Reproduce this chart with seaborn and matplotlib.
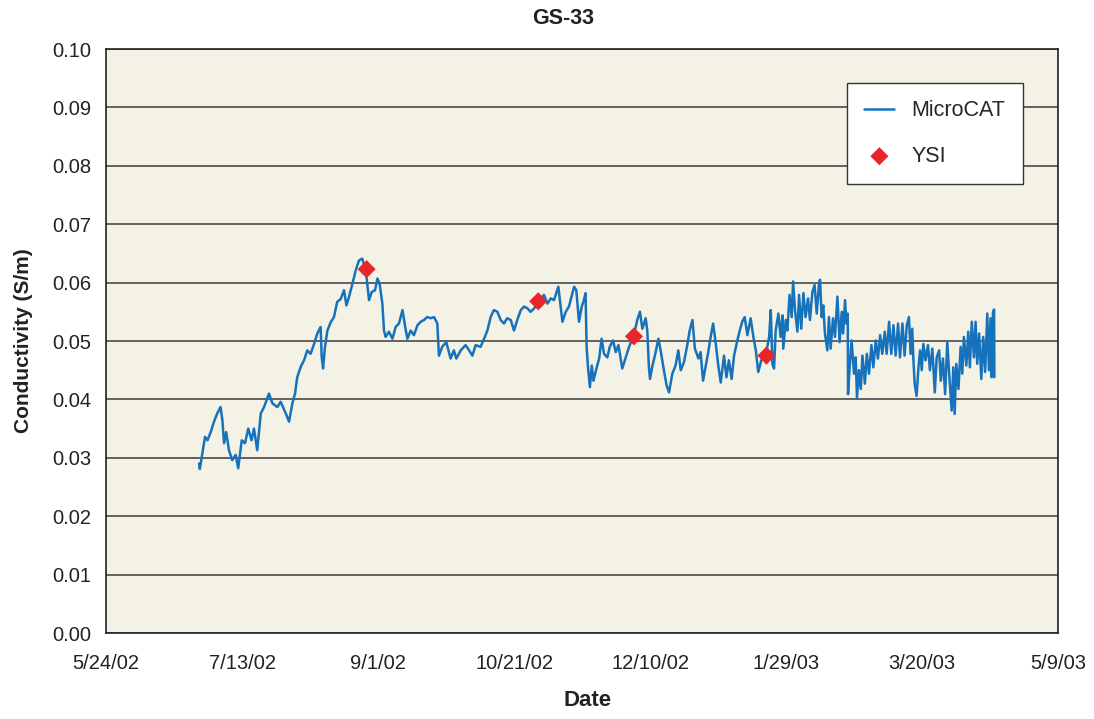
import numpy as np
import pandas as pd
import seaborn as sns
import matplotlib.pyplot as plt

# MicroCAT record: days after 5/24/02 and conductivity (S/m)
micro_days = [
    34.2, 34.5, 35.4, 36.4, 37.3, 38.5, 39.7, 40.9, 42.1, 42.8, 43.4, 44.2, 45.2, 46.4, 47.7,
    48.6, 49.9, 51.1, 52.3, 53.5, 54.4, 55.6, 56.9, 58.1, 59.9, 61.2, 63.0, 64.2, 66.1, 67.3,
    68.5, 69.5, 70.3, 71.6, 72.8, 74.0, 75.2, 76.5, 77.7, 78.9, 79.3, 79.8, 80.5, 81.4, 82.6,
    83.8, 85.0, 86.3, 87.5, 88.4, 89.3, 90.6, 91.8, 93.0, 94.2, 95.5, 96.7, 97.7, 98.9, 99.8,
    100.6, 101.6, 102.2, 102.8, 104.0, 105.3, 106.5, 107.7, 109.0, 109.9, 110.8, 112.0, 113.2,
    114.5, 115.7, 116.9, 118.1, 119.4, 120.6, 121.8, 122.4, 123.6, 125.1, 126.7, 127.9, 128.8,
    130.4, 132.2, 133.5, 134.7, 135.9, 137.7, 139.0, 140.2, 141.4, 142.6, 143.9, 145.1, 146.3,
    147.5, 148.8, 150.0, 151.2, 152.5, 153.7, 154.9, 156.1, 157.4, 159.2, 161.0, 162.3, 163.5,
    164.7, 166.3, 167.8, 169.0, 170.2, 172.1, 172.9, 173.9, 174.9, 175.7, 176.3, 176.7, 177.2,
    177.9, 178.6, 179.2, 180.3, 181.3, 182.2, 183.1, 184.3, 185.2, 186.4, 187.4, 188.4, 189.8,
    191.1, 192.3, 194.1, 195.3, 196.3, 197.2, 198.4, 199.0, 199.6, 200.0, 200.9, 201.8, 203.1,
    203.9, 205.1, 206.1, 207.0, 208.2, 209.4, 210.4, 211.3, 212.5, 213.7, 214.6, 215.6, 216.5,
    217.8, 218.6, 219.5, 220.5, 221.4, 222.3, 223.2, 224.1, 225.1, 226.0, 227.2, 228.1, 229.0,
    230.0, 230.9, 232.1, 233.0, 233.9, 234.8, 235.8, 237.0, 238.0, 238.9, 239.8, 241.1, 242.5,
    243.8, 244.4, 245.0, 245.6, 246.2, 247.2, 248.0, 248.7, 249.0, 249.9, 250.5, 251.3, 252.1,
    252.6, 253.3, 254.2, 254.8, 255.6, 256.4, 257.2, 258.1, 258.8, 259.7, 260.5, 261.3, 262.1,
    262.5, 263.1, 263.7, 264.3, 265.2, 265.8, 266.4, 267.3, 268.0, 268.9, 269.7, 270.5, 271.0,
    271.7, 272.2, 272.7, 272.8, 273.4, 274.1, 275.0, 275.6, 276.1, 276.8, 277.5, 278.1, 279.0,
    279.7, 280.5, 281.4, 282.1, 283.0, 283.8, 284.6, 285.4, 286.3, 287.0, 287.9, 288.7, 289.5,
    290.3, 291.2, 291.9, 292.8, 293.6, 294.4, 295.2, 295.8, 296.4, 296.8, 297.3, 298.0, 298.7,
    299.3, 299.9, 300.5, 301.3, 302.2, 302.9, 303.8, 304.7, 305.4, 306.3, 306.9, 307.7, 308.5,
    309.3, 309.9, 310.9, 311.5, 312.0, 312.6, 313.4, 314.2, 314.8, 315.4, 316.3, 317.0, 317.6,
    318.3, 319.1, 319.7, 320.3, 321.0, 321.8, 322.5, 323.2, 324.0, 324.6, 325.2, 325.6, 326.1,
    326.5, 326.6,
]
micro_cond = [
    0.0290, 0.0281, 0.0307, 0.0336, 0.0330, 0.0344, 0.0362, 0.0376, 0.0387, 0.0364, 0.0325, 0.0344, 0.0313, 0.0296, 0.0305,
    0.0282, 0.0330, 0.0325, 0.0350, 0.0330, 0.0350, 0.0313, 0.0376, 0.0387, 0.0410, 0.0393, 0.0387, 0.0396, 0.0376, 0.0362,
    0.0393, 0.0410, 0.0438, 0.0456, 0.0467, 0.0484, 0.0478, 0.0495, 0.0513, 0.0524, 0.0473, 0.0453, 0.0490, 0.0518, 0.0532,
    0.0541, 0.0567, 0.0572, 0.0587, 0.0561, 0.0575, 0.0598, 0.0621, 0.0638, 0.0641, 0.0621, 0.0570, 0.0584, 0.0587, 0.0607,
    0.0598, 0.0564, 0.0518, 0.0507, 0.0516, 0.0504, 0.0524, 0.0530, 0.0553, 0.0527, 0.0504, 0.0518, 0.0510,
    0.0527, 0.0533, 0.0536, 0.0541, 0.0539, 0.0541, 0.0530, 0.0475, 0.0490, 0.0498, 0.0470, 0.0484, 0.0470,
    0.0484, 0.0493, 0.0484, 0.0475, 0.0493, 0.0490, 0.0504, 0.0518, 0.0541, 0.0553, 0.0550, 0.0536, 0.0530,
    0.0539, 0.0536, 0.0518, 0.0536, 0.0553, 0.0559, 0.0556, 0.0550, 0.0556, 0.0567, 0.0579, 0.0564, 0.0573,
    0.0570, 0.0593, 0.0533, 0.0550, 0.0559, 0.0593, 0.0587, 0.0533, 0.0559, 0.0570, 0.0582, 0.0490, 0.0455,
    0.0421, 0.0458, 0.0432, 0.0453, 0.0470, 0.0504, 0.0478, 0.0472, 0.0490, 0.0501, 0.0481, 0.0493, 0.0453,
    0.0472, 0.0490, 0.0510, 0.0536, 0.0550, 0.0521, 0.0539, 0.0518, 0.0455, 0.0435, 0.0458, 0.0475, 0.0504,
    0.0484, 0.0450, 0.0424, 0.0412, 0.0444, 0.0458, 0.0484, 0.0450, 0.0464, 0.0493, 0.0518, 0.0536, 0.0487,
    0.0470, 0.0481, 0.0432, 0.0458, 0.0481, 0.0507, 0.0530, 0.0498, 0.0458, 0.0429, 0.0475, 0.0438, 0.0467,
    0.0435, 0.0475, 0.0501, 0.0518, 0.0533, 0.0541, 0.0510, 0.0539, 0.0507, 0.0484, 0.0447, 0.0470, 0.0475,
    0.0507, 0.0553, 0.0461, 0.0453, 0.0518, 0.0547, 0.0507, 0.0544, 0.0487, 0.0536, 0.0518, 0.0579, 0.0541,
    0.0602, 0.0553, 0.0516, 0.0579, 0.0521, 0.0582, 0.0541, 0.0573, 0.0536, 0.0584, 0.0596, 0.0547, 0.0596,
    0.0605, 0.0541, 0.0561, 0.0513, 0.0484, 0.0541, 0.0487, 0.0539, 0.0507, 0.0576, 0.0498, 0.0550, 0.0513,
    0.0570, 0.0530, 0.0547, 0.0409, 0.0455, 0.0501, 0.0444, 0.0472, 0.0403, 0.0450, 0.0418, 0.0475, 0.0427,
    0.0478, 0.0444, 0.0493, 0.0455, 0.0501, 0.0470, 0.0510, 0.0478, 0.0516, 0.0478, 0.0533, 0.0478, 0.0527,
    0.0475, 0.0530, 0.0472, 0.0530, 0.0475, 0.0527, 0.0541, 0.0478, 0.0521, 0.0472, 0.0427, 0.0406, 0.0455,
    0.0484, 0.0450, 0.0495, 0.0467, 0.0493, 0.0450, 0.0487, 0.0412, 0.0472, 0.0484, 0.0432, 0.0470, 0.0409,
    0.0498, 0.0450, 0.0381, 0.0455, 0.0375, 0.0461, 0.0418, 0.0490, 0.0444, 0.0507, 0.0458, 0.0516, 0.0455,
    0.0533, 0.0472, 0.0533, 0.0461, 0.0513, 0.0435, 0.0507, 0.0447, 0.0547, 0.0450, 0.0539, 0.0438, 0.0550,
    0.0554, 0.0438,
]

# YSI spot measurements
ysi_days = [95.8, 158.9, 194.1, 242.8]
ysi_cond = [0.0623, 0.0568, 0.0508, 0.0475]

tick_labels = ['5/24/02', '7/13/02', '9/1/02', '10/21/02', '12/10/02', '1/29/03', '3/20/03', '5/9/03']

start = pd.Timestamp('2002-05-24')
micro = pd.DataFrame({'Date': start + pd.to_timedelta(micro_days, unit='D'),
                      'Conductivity': micro_cond})
ysi = pd.DataFrame({'Date': start + pd.to_timedelta(ysi_days, unit='D'),
                    'Conductivity': ysi_cond})

sns.set_style('white')
plt.rcParams['font.family'] = ['Liberation Sans', 'DejaVu Sans']

fig = plt.figure(figsize=(10.94, 7.19), dpi=100)
ax = fig.add_axes([0.0969, 0.1196, 0.8702, 0.8122])

sns.lineplot(data=micro, x='Date', y='Conductivity', estimator=None, color='#1672bb',
             lw=1.8, label='MicroCAT', ax=ax, zorder=3)
sns.scatterplot(data=ysi, x='Date', y='Conductivity', marker='D', s=85, color='#e8252a',
                edgecolor='none', label='YSI', ax=ax, zorder=5)

ax.set_facecolor('#f4f1e5')
ax.set_ylim(0, 0.10)
yt = np.arange(0, 0.1001, 0.01)
ax.set_yticks(yt)
ax.set_yticklabels([f'{v:.2f}' for v in yt])
xt = [start + pd.Timedelta(days=50 * i) for i in range(len(tick_labels))]
ax.set_xlim(xt[0], xt[-1])
ax.set_xticks(xt)
ax.set_xticklabels(tick_labels)

ax.yaxis.grid(True, color='#4a4a4a', lw=1.2)
ax.xaxis.grid(False)
for s in ax.spines.values():
    s.set_color('#222222')
    s.set_linewidth(1.2)
ax.tick_params(axis='both', direction='out', length=7, width=1, color='#444444',
               labelsize=14.5, labelcolor='#222222')
ax.tick_params(axis='x', pad=8)
ax.tick_params(axis='y', pad=3.5)

ax.set_ylabel('Conductivity (S/m)', fontsize=15, fontweight='bold', color='#222222')
ax.set_xlabel('Date', fontsize=16, fontweight='bold', color='#222222')
ax.yaxis.set_label_coords(-0.077, 0.5)
ax.xaxis.set_label_coords(0.506, -0.098)
fig.text(563 / 1094, 1 - 18 / 719, 'GS-33', ha='center', va='center',
         fontsize=15.5, fontweight='bold', color='#222222')

leg = ax.legend(loc='upper right', bbox_to_anchor=(0.963, 0.942), frameon=True, fancybox=False,
                edgecolor='#333333', fontsize=15.5, borderpad=0.8, labelspacing=1.15,
                handlelength=1.4, handletextpad=0.8, borderaxespad=0)
leg.get_frame().set_alpha(1)
leg.get_frame().set_linewidth(1)

fig.savefig('out.png', dpi=100)
